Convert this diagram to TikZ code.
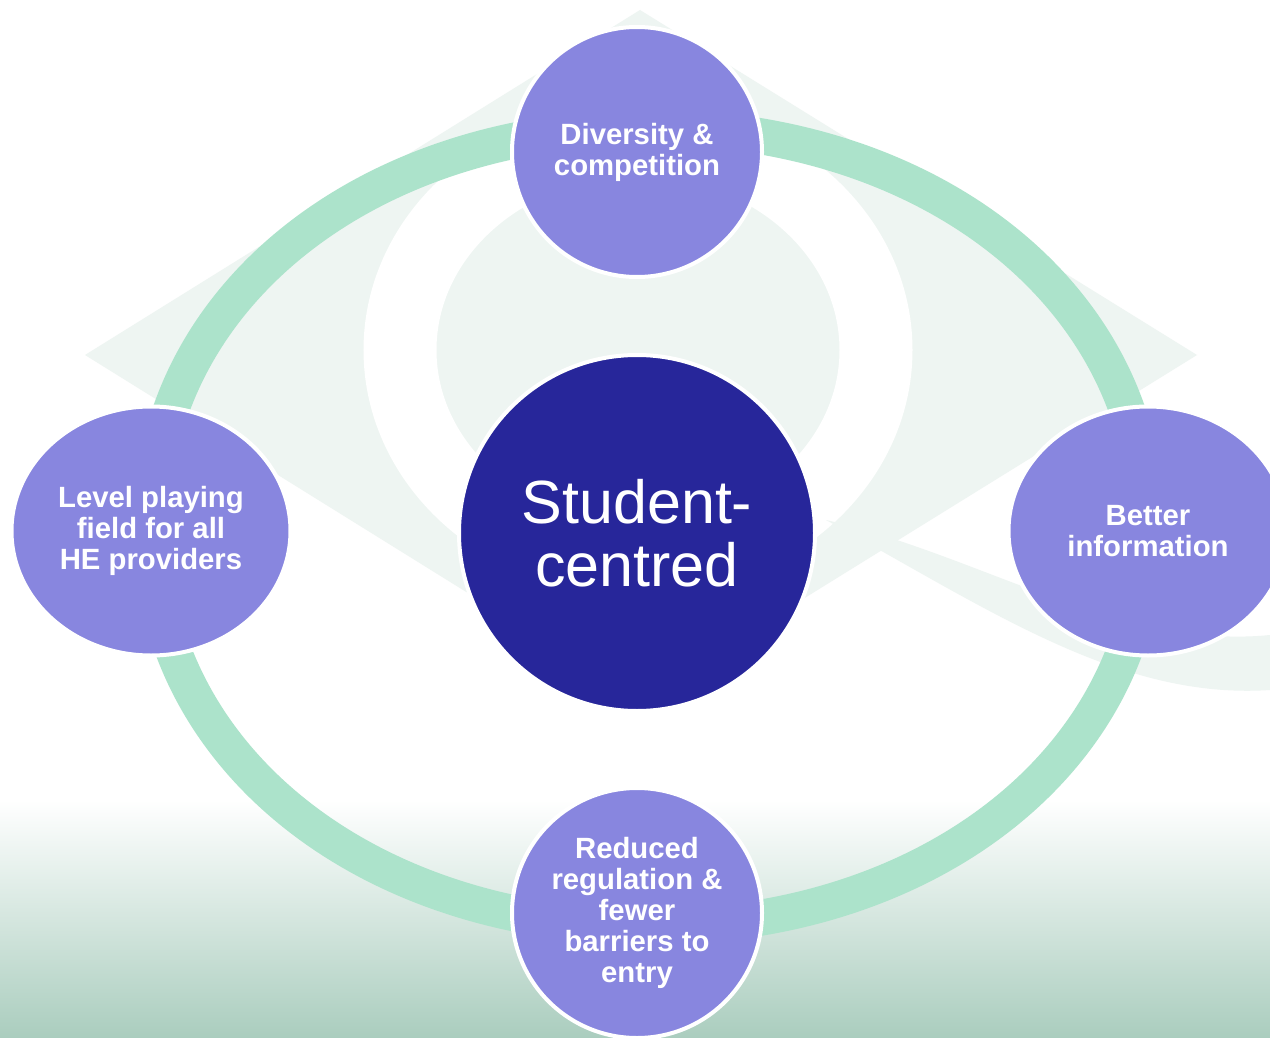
\documentclass[tikz,border=0pt]{standalone}
\usepackage{fontspec}
\setmainfont{Liberation Sans}
\usetikzlibrary{shapes.geometric}

\definecolor{hubblue}{RGB}{39,38,154}
\definecolor{spokepurple}{RGB}{136,134,223}
\definecolor{ringgreen}{RGB}{172,227,203}
\definecolor{markgreen}{RGB}{238,245,242}
\definecolor{floorgreen}{RGB}{170,205,190}

\begin{document}
\begin{tikzpicture}[x=1pt, y=-1pt,
    hub/.style={circle, fill=hubblue, draw=white, line width=4pt, minimum size=356pt,
      inner sep=0pt, text=white, align=center, font=\fontsize{61}{63}\selectfont},
    spoke/.style={fill=spokepurple, draw=white, line width=4pt, inner sep=0pt,
      text=white, align=center, font=\bfseries\fontsize{29.3}{31}\selectfont},
    roundspoke/.style={spoke, circle, minimum size=250pt},
    ovalspoke/.style={spoke, ellipse, minimum width=279pt, minimum height=249pt},
    ring/.style={draw=ringgreen, line width=36pt}]
  \useasboundingbox (0,0) rectangle (1270,1038);

  % background and faint mark
  \fill[white] (0,0) rectangle (1270,1038);
  \shade[top color=white, bottom color=floorgreen] (0,800) rectangle (1270,1038);
  \fill[markgreen] (85,355) -- (640,10) -- (1197,355) -- (640,700) -- cycle;
  \draw[white, line width=73pt] (638,350) ellipse [x radius=238, y radius=210];
  \fill[markgreen] (826,520) .. controls (980,555) and (1120,650) .. (1270,635)
    -- (1270,690) .. controls (1120,700) and (990,610) .. (826,520) -- cycle;

  % the ring
  \coordinate (ringN) at (649,127);
  \coordinate (ringW) at (151,527);
  \coordinate (ringS) at (649,927);
  \coordinate (ringE) at (1147,527);
  \draw[ring] (ringN) .. controls (365,127) and (151,299) .. (ringW)
    .. controls (151,755) and (365,927) .. (ringS)
    .. controls (933,927) and (1147,755) .. (ringE)
    .. controls (1147,299) and (933,127) .. (ringN) -- cycle;

  % nodes
  \node[hub] (student) at (637,533) {Student-\\centred};
  \node[roundspoke] (diversity) at (637,152) {Diversity \&\\competition};
  \node[ovalspoke] (level) at (151,531) {Level playing\\field for all\\HE providers};
  \node[ovalspoke] (info) at (1148,531) {Better\\information};
  \node[roundspoke] (reduced) at (637,913) {Reduced\\regulation \&\\fewer\\barriers to\\entry};
\end{tikzpicture}
\end{document}
